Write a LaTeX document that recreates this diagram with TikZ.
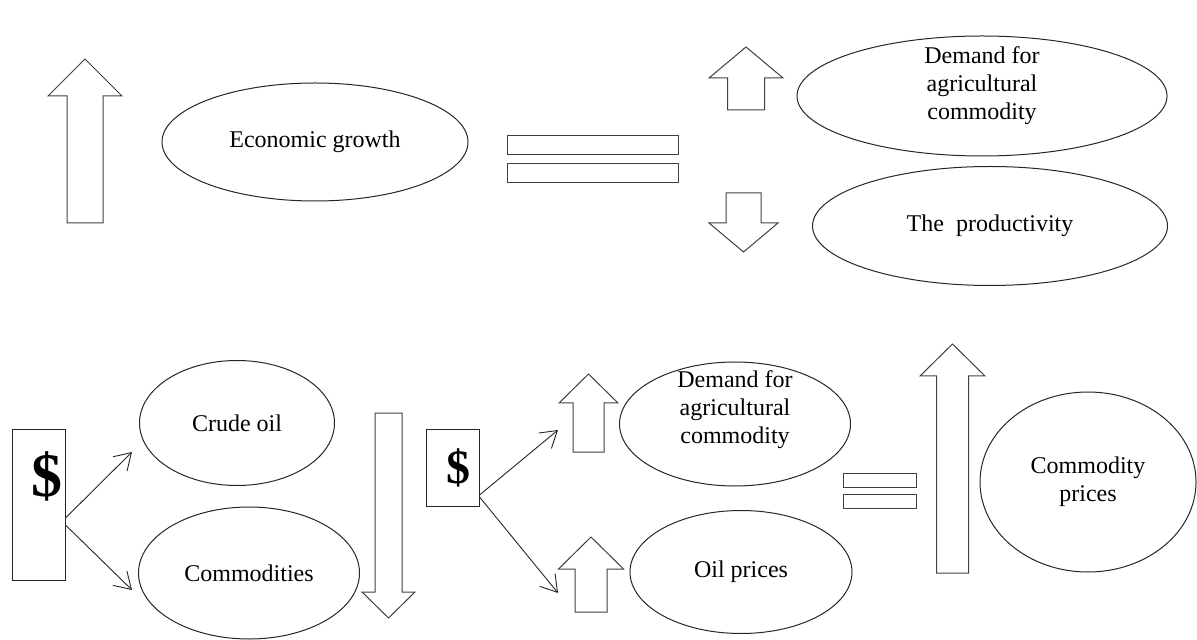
\documentclass[tikz,border=0pt]{standalone}
\usepackage{fontspec}
\setmainfont{Liberation Serif}
\usepackage{tikz}
\usetikzlibrary{shapes}
\usetikzlibrary{arrows.meta}
\newcommand{\blockarr}[6]{ \draw[blk] ( #1 , #2 ) -- ( #1-#3 , #4 ) -- ( #1-#5 , #4 ) -- ( #1-#5 , #6 ) -- ( #1+#5 , #6 ) -- ( #1+#5 , #4 ) -- ( #1+#3 , #4 ) -- cycle;}
\newcommand{\eqbar}[4]{ \draw[blk] ( #1 , #2 ) rectangle ( #3 , #4 );}
\tikzset{
  blk/.style={draw=black!75, line width=0.5pt},
  oval/.style={shape=ellipse, draw=black!85, line width=0.5pt, inner sep=0pt, align=center,
    font=\fontsize{12pt}{14pt}\selectfont},
  txt/.style={align=center, inner sep=0pt, font=\fontsize{12pt}{14pt}\selectfont},
  box/.style={draw=black!85, line width=0.5pt, inner sep=0pt},
  conn/.style={draw=black!85, line width=0.45pt, -{Straight Barb[length=8pt,width=10pt]}}
}
\begin{document}
\begin{tikzpicture}[x=0.5pt,y=-0.5pt]
    \useasboundingbox (0,0) rectangle (1197,640);

    % top row
    \blockarr{85}{59}{37}{96}{18}{223}
    \node[oval, minimum width=153pt, minimum height=59pt] (growth) at (315,142) {Economic growth};
    \eqbar{507}{136}{678}{155}
    \eqbar{507}{164}{678}{183}
    \blockarr{746}{47}{37}{78}{18.5}{110}
    \node[oval, minimum width=185pt, minimum height=60pt] (demTop) at (982,96) {};
    \node[txt] (demTopTxt) at (982,86) {Demand for\\agricultural\\commodity};
    \blockarr{743.5}{252}{34.5}{223}{17.5}{193}
    \node[oval, minimum width=177.5pt, minimum height=59.5pt] (prod) at (990,226) {The\ \ productivity};

    % bottom row, left
    \node[box, minimum width=26.5pt, minimum height=75.5pt] (dolA) at (38.5,504.5) {};
    \node[inner sep=0pt, font=\fontsize{31pt}{31pt}\selectfont\bfseries] (dolAsign) at (47,476) {\$};
    \node[oval, minimum width=97.5pt, minimum height=62.5pt] (crude) at (237,423) {Crude oil};
    \node[oval, minimum width=110.5pt, minimum height=66pt] (comm) at (249,573) {Commodities};
    \coordinate (crudeIn) at (132,452);
    \coordinate (commIn) at (132,590);
    \draw[conn] ([yshift=-6.75pt]dolA.east) -- (crudeIn);
    \draw[conn] ([yshift=-10.25pt]dolA.east) -- (commIn);
    \blockarr{388.5}{618}{26.5}{592}{13.5}{413}

    % bottom row, middle
    \node[box, minimum width=26.5pt, minimum height=38.5pt] (dolB) at (452.5,467.5) {};
    \node[inner sep=0pt, font=\fontsize{24pt}{24pt}\selectfont\bfseries] (dolBsign) at (458,468) {\$};
    \coordinate (demLowIn) at (558,430);
    \coordinate (oilIn) at (558,593);
    \draw[conn] ([yshift=-13.75pt]dolB.east) -- (demLowIn);
    \draw[conn] ([yshift=-14.75pt]dolB.east) -- (oilIn);
    \blockarr{588.5}{374}{29.5}{403}{15.5}{452}
    \node[oval, minimum width=115.5pt, minimum height=62pt] (demLow) at (735,424) {};
    \node[txt] (demLowTxt) at (735,410) {Demand for\\agricultural\\commodity};
    \blockarr{591}{537}{32.5}{569}{16}{612}
    \node[oval, minimum width=111pt, minimum height=61.5pt] (oil) at (741,572) {Oil prices};

    % bottom row, right
    \eqbar{843}{473}{916}{487}
    \eqbar{843}{494}{916}{508}
    \blockarr{952.5}{344}{32.5}{376}{16}{573}
    \node[oval, minimum width=108pt, minimum height=90pt] (prices) at (1088,482) {Commodity\\prices};
\end{tikzpicture}
\end{document}
